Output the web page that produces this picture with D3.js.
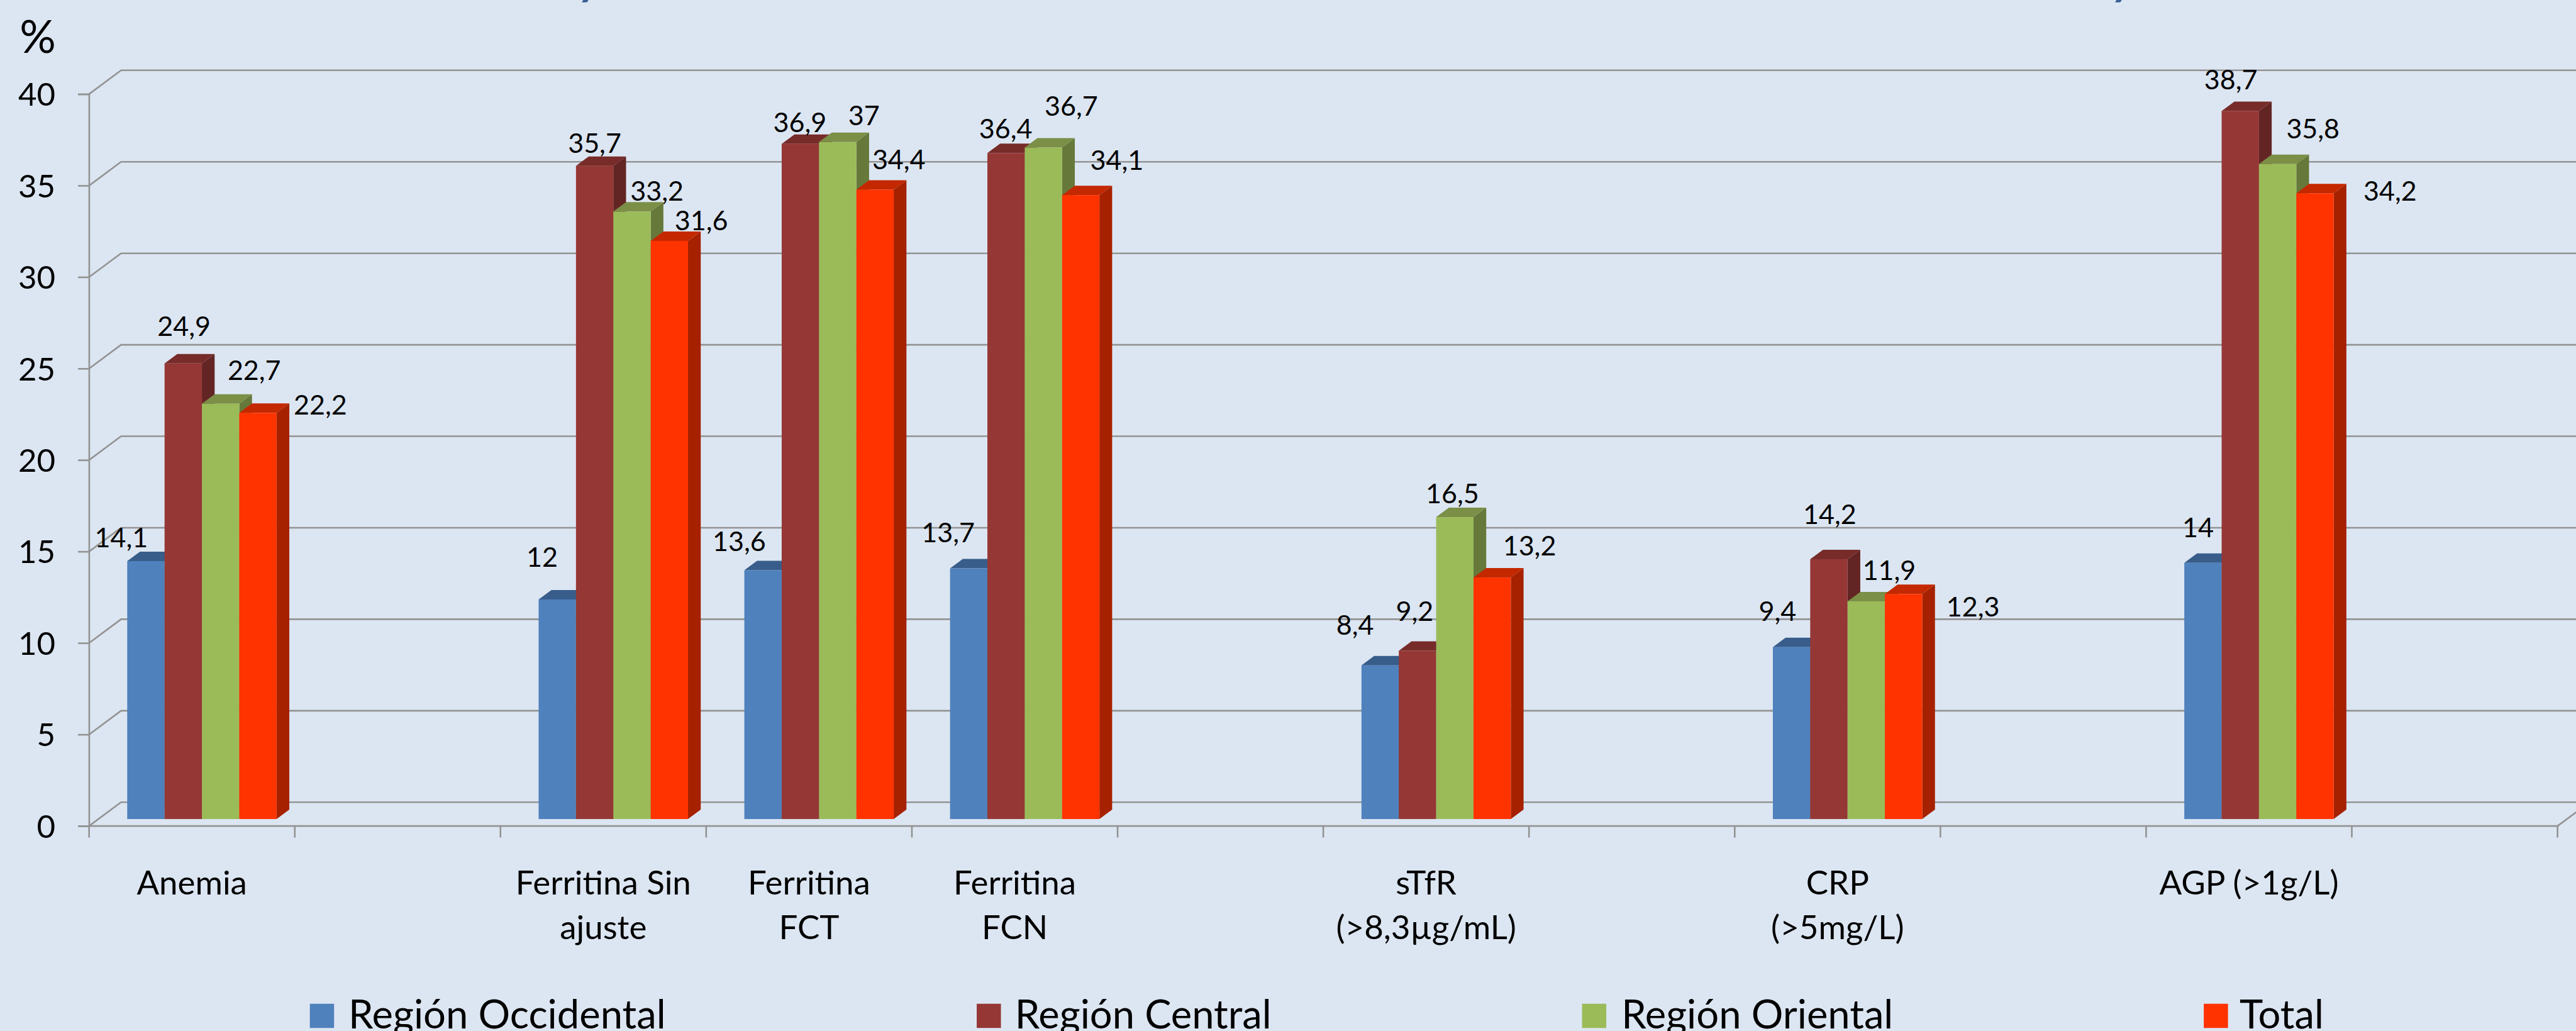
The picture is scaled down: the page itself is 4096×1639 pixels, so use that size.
<!DOCTYPE html>
<html>
<head>
<meta charset="utf-8">
<script src="https://cdn.jsdelivr.net/npm/d3@7"></script>
<style>
  html, body { margin: 0; padding: 0; background: #dce6f2; overflow: hidden; }
  svg { display: block; }
  text { font-family: Lato, "Open Sans", sans-serif; fill: #000; }
</style>
</head>
<body>
<div id="chart"></div>
<script>
// 12 slots on the axis, the empty ones are blank categories in the original
const categories = [
  "Anemia", "", "Ferritina Sin|ajuste", "Ferritina|FCT", "Ferritina|FCN", "",
  "sTfR|(>8,3µg/mL)", "", "CRP|(>5mg/L)", "", "AGP (>1g/L)", "",
];
const seriesNames = ["Región Occidental", "Región Central", "Región Oriental", "Total"];
const occidental = [14.1, null, 12, 13.6, 13.7, null, 8.4, null, 9.4, null, 14, null];
const central = [24.9, null, 35.7, 36.9, 36.4, null, 9.2, null, 14.2, null, 38.7, null];
const oriental = [22.7, null, 33.2, 37, 36.7, null, 16.5, null, 11.9, null, 35.8, null];
const total = [22.2, null, 31.6, 34.4, 34.1, null, 13.2, null, 12.3, null, 34.2, null];
const yTicks = [0, 5, 10, 15, 20, 25, 30, 35, 40];

const frontColors = ["#4f81bd", "#953735", "#9bbb59", "#ff3300"];
const topColors = ["#385d8a", "#772c2a", "#7b8f47", "#c42800"];
const sideColors = ["#2f4e74", "#632523", "#66793a", "#a62100"];

// hand placed data labels in the original: nudge from bar top centre, per series
const labelNudgeX = [
  [-60, null, -37, -58, -50, null, -61, null, -34, null, -12, null],
  [2, null, 0, -1, -1, null, -7, null, 2, null, -23, null],
  [82, null, 61, 64, 68, null, -6, null, 56, null, 86, null],
  [152, null, 78, 58, 88, null, 91, null, 169, null, 183, null],
];
const labelNudgeY = [
  [-57, null, -103, -71, -87, null, -99, null, -87, null, -86, null],
  [-91, null, -55, -53, -60, null, -96, null, -109, null, -77, null],
  [-82, null, -50, -65, -102, null, -58, null, -75, null, -86, null],
  [-20, null, -50, -73, -86, null, -77, null, 31, null, -6, null],
];

const seriesValues = [occidental, central, oriental, total];

// everything below is in the reference's own pixels, viewBox scales it to the window
const W = 6277, H = 2511;

const svg = d3
  .select("#chart")
  .append("svg")
  .attr("width", 4096)
  .attr("height", 1639)
  .attr("viewBox", `0 0 ${W} ${H}`);

svg.append("rect").attr("width", W).attr("height", H).attr("fill", "#dce6f2");

// tails of the title that is cut off by the top edge of the picture
[1413, 5149].forEach((tx) => {
  svg
    .append("text")
    .attr("x", tx)
    .attr("y", -14)
    .attr("font-size", 110)
    .attr("font-style", "italic")
    .attr("font-weight", 700)
    .style("fill", "#376092")
    .text("y");
});

const left = 217, right = 6232;
const y0 = 2012, y40 = 229;
const wallDx = 78, wallDy = 58; // 3d depth of the floor and wall
const barBase = 17; // bars stand this far up the floor
const barGap = 93, barDx = 31, barDy = 23;
const gridColor = "#939393";

const x = d3.scaleBand().domain(d3.range(categories.length)).range([left, right]);
const y = d3.scaleLinear().domain([0, 40]).range([y0, y40]);
const barW = d3
  .scaleBand()
  .domain(d3.range(4))
  .range([barGap, barGap + 364]);

// ==== WALL GRID ====
const grid = svg.append("g").attr("stroke", gridColor).attr("stroke-width", 4).attr("fill", "none");

yTicks.forEach((t) => {
  grid
    .append("path")
    .attr(
      "d",
      d3.line()([
        [left, y(t)],
        [left + wallDx, y(t) - wallDy],
        [W + 5, y(t) - wallDy],
      ])
    );
});

// front edge of the floor and the piece going back at the right
grid
  .append("path")
  .attr(
    "d",
    d3.line()([
      [left, y0],
      [right, y0],
      [right + wallDx, y0 - wallDy],
    ])
  );

// ==== AXES ====
const yAxis = d3
  .axisLeft(y)
  .tickValues(yTicks)
  .tickSize(27)
  .tickPadding(55)
  .tickFormat((d) => d);

const yG = svg.append("g").attr("transform", `translate(${left},0)`).call(yAxis);
yG.select(".domain").attr("stroke", gridColor).attr("stroke-width", 4);
yG.selectAll(".tick line").attr("stroke", gridColor).attr("stroke-width", 4);
yG.selectAll(".tick text").attr("font-size", 78).attr("font-family", null).attr("dy", "0.36em");

// category ticks sit on the slot edges
svg
  .append("g")
  .selectAll("line")
  .data(d3.range(categories.length + 1))
  .enter()
  .append("line")
  .attr("x1", (i) => left + i * x.bandwidth())
  .attr("x2", (i) => left + i * x.bandwidth())
  .attr("y1", y0)
  .attr("y2", y0 + 28)
  .attr("stroke", gridColor)
  .attr("stroke-width", 4);

svg
  .append("text")
  .attr("x", 92)
  .attr("y", 128)
  .attr("text-anchor", "middle")
  .attr("font-size", 110)
  .text("%");

// ==== BARS ====
const bars = [];
seriesValues.forEach((values, s) => {
  values.forEach((v, c) => {
    if (v !== null) bars.push({ s, c, v });
  });
});
bars.sort((a, b) => a.c - b.c || a.s - b.s);

const barX = (d) => x(d.c) + barW(d.s);
const barTop = (d) => y(d.v) - barBase;
const barBottom = y0 - barBase;
const poly = (pts) => d3.line()(pts) + "Z";

const barG = svg.selectAll(".bar").data(bars).enter().append("g").attr("class", "bar");

// side face
barG
  .append("path")
  .attr("fill", (d) => sideColors[d.s])
  .attr("d", (d) => {
    const xr = barX(d) + barW.bandwidth();
    return poly([
      [xr, barTop(d)],
      [xr + barDx, barTop(d) - barDy],
      [xr + barDx, barBottom - barDy],
      [xr, barBottom],
    ]);
  });

// top face
barG
  .append("path")
  .attr("fill", (d) => topColors[d.s])
  .attr("d", (d) => {
    const xl = barX(d);
    const xr = xl + barW.bandwidth();
    return poly([
      [xl, barTop(d)],
      [xl + barDx, barTop(d) - barDy],
      [xr + barDx, barTop(d) - barDy],
      [xr, barTop(d)],
    ]);
  });

// front face
barG
  .append("rect")
  .attr("x", barX)
  .attr("y", barTop)
  .attr("width", barW.bandwidth())
  .attr("height", (d) => barBottom - barTop(d))
  .attr("fill", (d) => frontColors[d.s]);

// ==== DATA LABELS ====
svg
  .selectAll(".value")
  .data(bars)
  .enter()
  .append("text")
  .attr("class", "value")
  .attr("x", (d) => barX(d) + barW.bandwidth() / 2 + labelNudgeX[d.s][d.c])
  .attr("y", (d) => barTop(d) + labelNudgeY[d.s][d.c])
  .attr("dy", "0.36em")
  .attr("text-anchor", "middle")
  .attr("font-size", 66)
  .text((d) => String(d.v).replace(".", ","));

// ==== CATEGORY LABELS ====
categories.forEach((name, c) => {
  name.split("|").forEach((line, i) => {
    svg
      .append("text")
      .attr("x", x(c) + x.bandwidth() / 2)
      .attr("y", 2179 + i * 108)
      .attr("text-anchor", "middle")
      .attr("font-size", 81)
      .text(line);
  });
});

// ==== LEGEND ====
const legendSwatch = [755, 2380, 3855, 5370];
const legendText = [849, 2473, 3951, 5457];

seriesNames.forEach((name, s) => {
  svg
    .append("rect")
    .attr("x", legendSwatch[s])
    .attr("y", 2445)
    .attr("width", 59)
    .attr("height", 59)
    .attr("fill", frontColors[s]);
  svg
    .append("text")
    .attr("x", legendText[s])
    .attr("y", 2505)
    .attr("font-size", 97)
    .text(name);
});
</script>
</body>
</html>
